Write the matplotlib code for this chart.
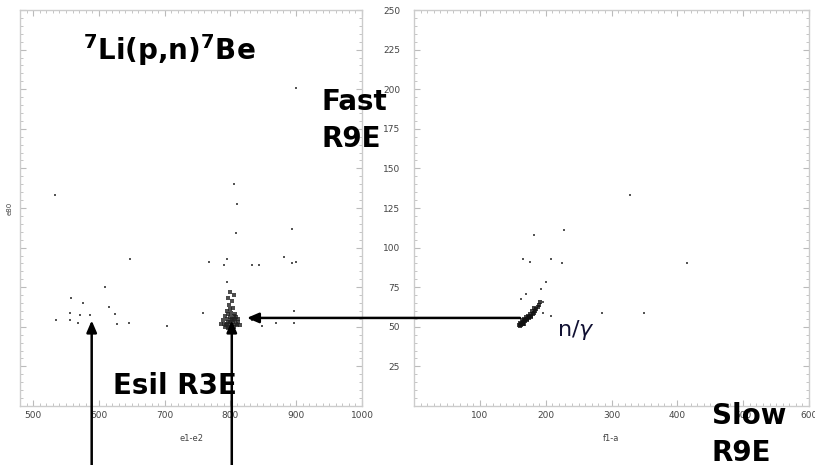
import matplotlib.pyplot as plt
from matplotlib.patches import ConnectionPatch
from matplotlib.ticker import MultipleLocator

# Left panel: e1-e2 vs e80 (scattered events)
left_x = [533, 805, 810, 808, 893, 899, 647, 767, 795, 790, 832, 843, 881, 893, 899,
          795, 609, 557, 576, 616, 556, 571, 624, 758, 896, 535, 556, 568, 586, 627,
          645, 704, 848, 869, 896, 832]
left_y = [133, 140, 127.5, 109, 112, 201, 92.5, 91, 92.5, 89, 89, 89, 94, 90, 91,
          78, 75, 68, 65, 62.5, 59, 57.5, 58, 59, 60, 54, 54, 52.5, 57.5, 52,
          52.5, 50.6, 50.6, 52.5, 52.5, 54]

# Left panel: dense cluster around 800
clus_x = [790, 793, 796, 798, 800, 802, 804, 806, 808, 795, 799, 803, 807, 792, 797,
          801, 805, 809, 794, 800, 804, 798, 802, 796, 806, 800, 810, 812, 788, 791,
          797, 803, 799, 801, 805, 795, 807, 811, 786, 814]
clus_y = [52, 51, 53, 50, 52, 51, 53, 50, 52, 55, 56, 55, 54, 57, 58,
          59, 57, 56, 60, 61, 62, 64, 66, 68, 70, 72, 51, 53, 54, 50,
          49, 49, 53, 54, 55, 52, 58, 55, 52, 51]

# Right panel: f1-a scattered events
right_x = [327.5, 182, 228, 166, 176, 208, 225, 415, 201, 193, 170, 163, 196, 196,
           208, 285, 350]
right_y = [133, 108, 111, 93, 91, 93, 90, 90, 78, 74, 70.6, 67.5, 65.6, 59,
           57, 59, 59]

# Right panel: n/gamma streak
streak_x = [160, 162, 163, 165, 166, 168, 169, 171, 172, 174, 175, 177, 178, 180,
            182, 184, 186, 188, 190, 192, 161, 164, 167, 170, 173, 176, 179, 183,
            161, 163, 165, 167]
streak_y = [51, 52, 51.5, 53, 52.5, 54, 53.5, 55, 54.5, 56, 55.5, 57, 56.5, 58,
            59, 60, 61, 62.5, 64, 65.5, 52.5, 54, 55, 56, 57, 58, 60, 62,
            50.5, 51, 51.5, 52]

left_xticks = [500, 600, 700, 800, 900, 1000]
right_xticks = [100, 200, 300, 400, 500, 600]
right_yticks = [25, 50, 75, 100, 125, 150, 175, 200, 225, 250]

fig = plt.figure(figsize=(8.15, 4.65), dpi=100)
W, H = 815, 465
axL = fig.add_axes([20 / W, 1 - 406 / H, 342 / W, 396 / H])
axR = fig.add_axes([414 / W, 1 - 406 / H, 395 / W, 396 / H])

for ax in (axL, axR):
    for s in ax.spines.values():
        s.set_color('#cccccc')
        s.set_linewidth(1)
    ax.tick_params(which='both', direction='in', top=True, right=True,
                   color='#bbbbbb', labelsize=6.5, labelcolor='#444444')
    ax.tick_params(which='major', length=4)
    ax.tick_params(which='minor', length=2)
    ax.set_ylim(0, 250)
    ax.yaxis.set_minor_locator(MultipleLocator(5))
    ax.xaxis.set_minor_locator(MultipleLocator(10))

axL.set_xlim(480, 1000)
axL.set_xticks(left_xticks)
axL.set_yticks(right_yticks)
axL.set_yticklabels([])
axL.set_xlabel('e1-e2', fontsize=6, color='#444444', labelpad=10)
axL.set_ylabel('e80', fontsize=5, color='#444444', labelpad=2)

axR.set_xlim(0, 600)
axR.set_xticks(right_xticks)
axR.set_yticks(right_yticks)
axR.tick_params(axis='y', pad=10)
axR.set_xlabel('f1-a', fontsize=6, color='#444444', labelpad=10)

axL.scatter(left_x, left_y, s=3, color='#555555', linewidths=0, marker='s')
axL.scatter(clus_x, clus_y, s=5, color='#222222', linewidths=0, alpha=0.8, marker='s')
axR.scatter(right_x, right_y, s=3, color='#555555', linewidths=0, marker='s')
axR.scatter(streak_x, streak_y, s=9, color='#111111', linewidths=0, alpha=0.8, marker='s')

arrow_kw = dict(arrowstyle='-|>,head_length=0.7,head_width=0.3', color='black',
                lw=1.8, shrinkA=0, shrinkB=0)

# horizontal arrow from the n/gamma streak to the cluster
con = ConnectionPatch(xyA=(161, 55.6), coordsA=axR.transData,
                      xyB=(825, 55.6), coordsB=axL.transData, **arrow_kw)
fig.add_artist(con)

# vertical arrows from below
for xv in (589, 802):
    axL.annotate('', xy=(xv, 54), xytext=(xv, -40), xycoords='data',
                 textcoords='data', annotation_clip=False, arrowprops=arrow_kw)

bold = dict(fontsize=20, fontweight='bold', color='black')
fig.text(83 / W, 1 - 60 / H, r'$\mathbf{^7}$Li(p,n)$\mathbf{^7}$Be', ha='left',
         va='baseline', **bold)
fig.text(322 / W, 1 - 110 / H, 'Fast', ha='left', va='baseline', **bold)
fig.text(322 / W, 1 - 147 / H, 'R9E', ha='left', va='baseline', **bold)
fig.text(113 / W, 1 - 394 / H, 'Esil R3E', ha='left', va='baseline', **bold)
fig.text(712 / W, 1 - 424 / H, 'Slow', ha='left', va='baseline', **bold)
fig.text(712 / W, 1 - 461 / H, 'R9E', ha='left', va='baseline', **bold)
fig.text(557 / W, 1 - 336 / H, r'n/$\gamma$', ha='left', va='baseline',
         fontsize=16, color='#111133')

fig.savefig('out.png', dpi=100)
